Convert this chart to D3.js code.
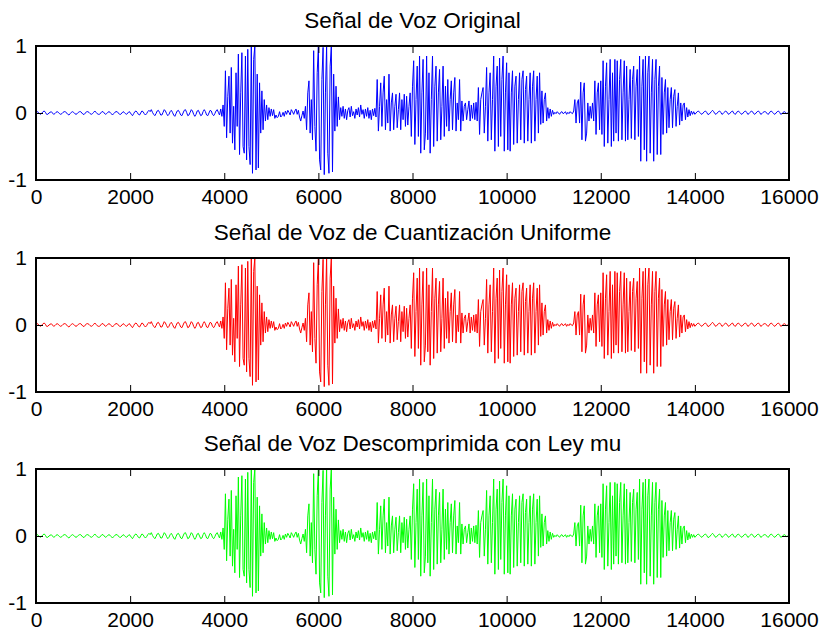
<!DOCTYPE html>
<html>
<head>
<meta charset="utf-8">
<script src="https://cdn.jsdelivr.net/npm/d3@7"></script>
<style>
  body { margin: 0; background: #fff; }
  text { font-family: "Liberation Sans", Arial, sans-serif; fill: #000; }
</style>
</head>
<body>
<div id="chart"></div>
<script>
// señal de voz, una muestra cada 25
var paso = 25;
var voz = [
  0.00,0.02,0.01,-0.01,-0.02,0.00,0.02,0.03,0.01,-0.02,-0.02,0.00,0.01,0.02,0.00,-0.02,-0.01,0.01,0.02,0.01,
  -0.01,-0.02,-0.01,0.01,0.02,0.02,0.00,-0.02,-0.03,-0.01,0.01,0.02,0.01,-0.01,-0.02,-0.01,0.01,0.02,0.02,0.00,
  -0.02,-0.02,0.00,0.02,0.02,0.01,-0.01,-0.02,-0.01,0.01,0.03,0.01,-0.01,-0.02,-0.02,0.00,0.02,0.02,0.00,-0.02,
  -0.01,0.01,0.02,0.01,-0.01,-0.03,-0.01,0.01,0.02,0.02,0.00,-0.02,-0.02,0.00,0.02,0.01,-0.01,-0.02,0.00,0.02,
  0.01,-0.02,-0.04,-0.01,0.02,0.03,0.01,-0.02,-0.03,0.00,0.03,0.02,-0.01,-0.03,-0.01,0.02,0.04,0.02,0.05,0.01,
  -0.02,-0.04,-0.01,0.03,0.04,0.01,-0.03,-0.03,0.01,0.05,0.03,-0.01,-0.04,-0.02,0.02,0.04,0.01,-0.03,-0.05,-0.01,
  0.03,0.04,0.01,-0.03,-0.04,0.00,0.04,0.05,0.01,-0.04,-0.03,0.01,0.05,0.03,-0.02,-0.05,-0.02,0.03,0.04,0.00,
  -0.04,-0.03,0.02,0.05,0.02,-0.03,-0.04,0.00,0.04,0.03,-0.02,-0.04,-0.01,0.03,0.05,0.01,-0.03,0.06,-0.05,0.12,
  -0.20,0.63,-0.37,0.25,0.55,-0.30,0.68,-0.45,0.10,-0.55,0.60,-0.20,0.88,-0.62,0.30,0.90,-0.50,-0.60,0.85,-0.70,
  0.95,-0.50,-0.77,1.00,-0.90,0.80,1.00,-0.85,0.58,-0.82,0.45,-0.30,0.33,-0.25,0.20,-0.12,0.12,-0.10,0.08,-0.05,
  0.06,-0.04,0.05,-0.08,-0.03,-0.07,-0.05,0.02,-0.06,-0.04,0.01,-0.05,0.03,-0.02,0.04,0.01,-0.03,0.05,0.02,-0.02,
  0.03,0.06,-0.02,0.04,-0.06,-0.12,-0.04,0.03,-0.08,0.10,-0.25,0.30,0.48,-0.30,0.20,-0.40,0.93,-0.20,-0.57,0.60,
  1.00,-0.70,-0.85,0.50,0.98,-0.92,0.30,1.00,-0.60,-0.90,0.70,1.00,-0.88,0.58,-0.27,0.40,-0.20,0.24,-0.10,0.08,
  -0.05,0.10,-0.08,0.06,-0.10,0.04,0.08,-0.06,0.10,-0.04,0.02,-0.08,0.06,-0.03,0.08,-0.06,0.12,-0.02,0.05,-0.08,
  0.06,-0.05,0.08,-0.08,0.04,-0.10,0.06,-0.04,0.07,-0.06,0.50,-0.27,0.10,0.45,-0.20,0.30,0.55,-0.25,0.20,-0.15,
  0.58,-0.27,0.15,0.30,-0.25,0.10,0.28,-0.22,0.05,0.30,-0.25,0.20,-0.10,0.28,-0.20,0.25,-0.18,0.10,0.30,-0.35,
  0.40,0.78,-0.47,0.20,0.70,-0.35,0.85,-0.60,0.30,0.80,-0.55,-0.30,0.85,-0.40,0.60,-0.60,0.20,0.85,-0.50,0.40,
  0.70,-0.42,0.30,0.65,-0.40,0.10,0.70,-0.35,0.40,-0.20,0.50,-0.27,0.20,0.48,-0.25,0.30,0.53,-0.27,0.15,-0.10,
  0.50,-0.27,0.18,-0.12,0.10,0.15,-0.10,0.05,0.18,-0.12,0.12,-0.08,0.15,-0.10,0.16,-0.12,0.38,-0.32,0.20,0.30,
  0.38,-0.30,0.10,0.68,-0.42,0.30,0.60,-0.40,0.20,0.85,-0.57,0.40,0.70,-0.50,0.82,-0.35,0.50,0.85,-0.57,0.30,
  0.75,-0.55,0.60,-0.57,0.30,0.63,-0.47,0.40,0.55,-0.45,0.20,0.60,-0.40,0.50,0.63,-0.45,0.35,0.55,-0.42,0.20,
  0.60,-0.45,0.40,0.63,-0.42,0.20,0.55,-0.30,0.60,-0.17,0.33,-0.15,0.20,0.30,-0.12,0.08,-0.08,0.06,-0.05,0.04,
  -0.02,0.01,-0.01,0.02,0.00,-0.02,0.01,0.02,-0.01,0.00,0.02,-0.02,0.01,-0.01,0.02,0.00,-0.01,0.03,0.20,-0.15,
  0.15,0.20,-0.15,0.46,-0.40,0.30,0.45,-0.42,-0.30,0.15,-0.12,0.10,-0.08,0.15,-0.12,0.48,-0.32,0.30,0.45,-0.25,
  0.48,-0.32,0.78,-0.50,0.40,0.75,-0.45,0.20,0.80,-0.50,0.60,-0.42,0.80,-0.30,0.78,-0.42,0.50,0.80,-0.40,0.30,
  0.78,-0.42,0.70,-0.40,0.20,0.65,-0.38,0.50,0.70,-0.40,0.40,0.65,-0.35,0.85,-0.72,0.40,0.80,-0.55,0.85,-0.72,
  0.60,0.85,-0.60,0.30,0.80,-0.72,0.50,0.80,-0.62,0.40,0.70,-0.62,0.53,-0.32,0.30,0.50,-0.30,0.38,-0.22,0.20,
  0.38,-0.22,0.25,0.35,-0.20,0.10,0.30,-0.18,0.15,-0.12,0.12,0.15,-0.10,0.08,-0.06,0.05,-0.04,0.03,-0.02,0.02,
  -0.02,0.00,0.02,0.03,0.01,-0.01,-0.02,0.00,0.02,0.03,0.01,-0.02,-0.02,0.00,0.02,0.04,0.02,-0.01,-0.02,0.00,
  0.02,0.03,0.01,-0.02,-0.01,0.01,0.03,0.02,-0.01,-0.02,0.00,0.02,0.03,0.00,-0.02,-0.01,0.02,0.03,0.01,-0.01,
  -0.02,0.00,0.02,0.03,0.01,-0.02,-0.01,0.01,0.03,0.02,-0.01,-0.02,0.00,0.02,0.03,0.01,-0.02,-0.01,0.01,0.02,
  0.02,0.00,-0.02,-0.01,0.02,0.03,0.01,-0.01,-0.02,0.00,0.02,0.03,0.01,-0.02,-0.01,0.01,0.02,0.01,-0.01,0.00,
  0.00
];

var titulos = ["Señal de Voz Original",
               "Señal de Voz de Cuantización Uniforme",
               "Señal de Voz Descomprimida con Ley mu"];
var colores = ["#0000ff", "#ff0000", "#00ff00"];
var xTicks = [0, 2000, 4000, 6000, 8000, 10000, 12000, 14000, 16000];
var yTicks = [-1, 0, 1];

var svgWidth = 824;
var svgHeight = 630;
var left = 36, right = 789;
var panelTops = [46, 258, 469];
var panelH = 134;

var svg = d3.select("#chart")
  .append("svg")
  .attr("width", svgWidth)
  .attr("height", svgHeight);

var x = d3.scaleLinear().domain([0, 16000]).range([left, right]);

titulos.forEach(function(titulo, k) {
  var top = panelTops[k];
  var y = d3.scaleLinear().domain([-1, 1]).range([top + panelH, top]);

  var g = svg.append("g");

  // the signal
  var linea = d3.line()
    .x(function(d, i) { return x(i * paso); })
    .y(function(d) { return y(d); });

  g.append("path")
    .datum(voz)
    .attr("d", linea)
    .attr("fill", "none")
    .attr("stroke", colores[k])
    .attr("stroke-width", 1);

  // axes, ticks inward like matlab
  var bottomAxis = d3.axisBottom(x).tickValues(xTicks).tickSizeInner(-7).tickSizeOuter(0).tickPadding(9).tickFormat(d3.format("d"));
  var topAxis = d3.axisTop(x).tickValues(xTicks).tickSizeInner(-7).tickSizeOuter(0).tickFormat("");
  var leftAxis = d3.axisLeft(y).tickValues(yTicks).tickSizeInner(-7).tickSizeOuter(0).tickPadding(9).tickFormat(d3.format("d"));
  var rightAxis = d3.axisRight(y).tickValues(yTicks).tickSizeInner(-7).tickSizeOuter(0).tickFormat("");

  var axes = [
    g.append("g").attr("transform", `translate(0, ${top + panelH})`).call(bottomAxis),
    g.append("g").attr("transform", `translate(0, ${top})`).call(topAxis),
    g.append("g").attr("transform", `translate(${left}, 0)`).call(leftAxis),
    g.append("g").attr("transform", `translate(${right}, 0)`).call(rightAxis)
  ];
  axes.forEach(function(a) {
    a.select(".domain").remove();
    a.selectAll("line").attr("stroke", "#000").attr("stroke-width", 1);
    a.selectAll("text")
      .style("font-size", "21px")
      .style("font-family", "'Liberation Sans', Arial, sans-serif")
      .attr("fill", "#000")
      .text(function() { return d3.select(this).text().replace("−", "-"); });
  });

  g.append("rect")
    .attr("x", left)
    .attr("y", top)
    .attr("width", right - left)
    .attr("height", panelH)
    .attr("fill", "none")
    .attr("stroke", "#000")
    .attr("stroke-width", 2);

  g.append("text")
    .attr("x", (left + right) / 2)
    .attr("y", top - 18)
    .attr("text-anchor", "middle")
    .style("font-size", "22.5px")
    .text(titulo);
});
</script>
</body>
</html>
